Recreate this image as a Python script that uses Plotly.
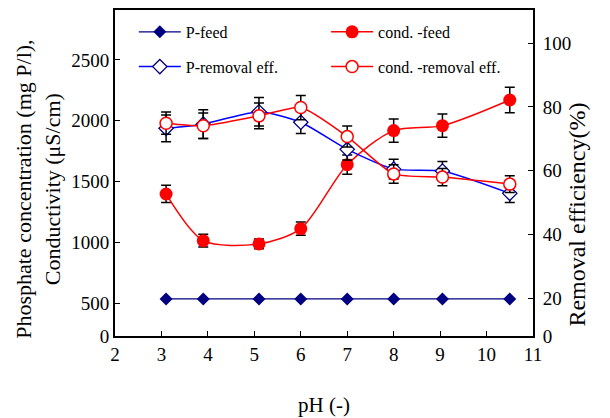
import plotly.graph_objects as go

ph = [3.1, 3.9, 5.1, 6.0, 7.0, 8.0, 9.05, 10.5]
p_feed = [535, 535, 535, 535, 535, 535, 535, 535]
cond_feed = [1398, 1014, 987, 1113, 1639, 1919, 1960, 2171]
cond_feed_err = [71, 53, 40, 55, 79, 95, 95, 105]
p_removal = [73.3, 74.6, 78.5, 75.2, 66.7, 60.5, 59.9, 52.9]
p_removal_err = [4.2, 4.5, 4.5, 3.5, 3.3, 3.1, 3.0, 2.9]
cond_removal = [74.9, 74.1, 77.2, 79.8, 70.7, 59.0, 58.0, 55.8]
cond_removal_err = [3.5, 4.0, 4.0, 3.8, 3.3, 2.9, 2.7, 2.6]

left_ticks = [230, 500, 1000, 1500, 2000, 2500]
left_labels = ["0", "500", "1000", "1500", "2000", "2500"]
right_ticks = [8.17, 20, 40, 60, 80, 100]
right_labels = ["0", "20", "40", "60", "80", "100"]
x_ticks = [2, 3, 4, 5, 6, 7, 8, 9, 10, 11]

x_title = "pH (-)"
left_title = "Phosphate concentration (mg P/l),<br>Conductivity (μS/cm)"
right_title = "Removal efficiency(%)"

FONT = "Liberation Serif"
navy = "#000080"
red = "#FF0000"

def ebar(arr):
    return dict(type="data", array=arr, visible=True, color="black", thickness=1.5, width=5)

fig = go.Figure()
fig.add_trace(go.Scatter(
    x=ph, y=p_feed, name="P-feed", mode="lines+markers", yaxis="y",
    line=dict(color=navy, width=1.2),
    marker=dict(symbol="diamond", size=10, color=navy),
    legend="legend", legendgroup="a"))
fig.add_trace(go.Scatter(
    x=ph, y=p_removal, name="P-removal eff.", mode="lines+markers", yaxis="y2",
    line=dict(color="#0000FF", width=1.5, shape="spline", smoothing=0.6),
    marker=dict(symbol="diamond", size=11, color="white", line=dict(color=navy, width=1.3)),
    error_y=ebar(p_removal_err),
    legend="legend", legendgroup="b"))
fig.add_trace(go.Scatter(
    x=ph, y=cond_feed, name="cond. -feed", mode="lines+markers", yaxis="y",
    line=dict(color=red, width=1.5, shape="spline", smoothing=0.8),
    marker=dict(symbol="circle", size=13, color=red),
    error_y=ebar(cond_feed_err),
    legend="legend2", legendgroup="c"))
fig.add_trace(go.Scatter(
    x=ph, y=cond_removal, name="cond. -removal eff.", mode="lines+markers", yaxis="y2",
    line=dict(color=red, width=1.5, shape="spline", smoothing=0.6),
    marker=dict(symbol="circle", size=12, color="white", line=dict(color=red, width=1.5)),
    error_y=ebar(cond_removal_err),
    legend="legend2", legendgroup="d"))

axis_common = dict(showgrid=False, zeroline=False, showline=True, linecolor="black",
                   linewidth=2, ticks="inside", ticklen=5, tickcolor="black", tickwidth=1.2,
                   automargin=False,
                   tickfont=dict(family=FONT, size=19, color="black"))

legend_common = dict(font=dict(family=FONT, size=16, color="black"), bgcolor="rgba(0,0,0,0)",
                     tracegroupgap=11, xanchor="left", yanchor="top", itemwidth=42)

fig.update_layout(
    width=610, height=418,
    margin=dict(l=115, r=76.5, t=10, b=82),
    paper_bgcolor="white", plot_bgcolor="white",
    xaxis=dict(range=[2, 11], tickvals=x_ticks, mirror=True, **axis_common),
    yaxis=dict(range=[230, 2911], tickvals=left_ticks, ticktext=left_labels, **axis_common),
    yaxis2=dict(range=[8.17, 110.4], tickvals=right_ticks, ticktext=right_labels,
                overlaying="y", side="right", ticklabelstandoff=4, **axis_common),
    legend=dict(x=0.045, y=0.985, **legend_common),
    legend2=dict(x=0.505, y=0.985, **legend_common),
    showlegend=True,
    annotations=[
        dict(text=x_title, xref="paper", yref="paper",
             x=0.5, y=-0.212, xanchor="center", yanchor="middle", showarrow=False,
             font=dict(family=FONT, size=21, color="black")),
        dict(text=left_title, textangle=-90, xref="paper", yref="paper",
             x=-0.183, y=0.45, xanchor="center", yanchor="middle", showarrow=False,
             font=dict(family=FONT, size=22, color="black"), align="center"),
        dict(text=right_title, textangle=-90, xref="paper", yref="paper",
             x=1.105, y=0.372, xanchor="center", yanchor="middle", showarrow=False,
             font=dict(family=FONT, size=24, color="black")),
    ],
)

fig.write_html("out.html")
